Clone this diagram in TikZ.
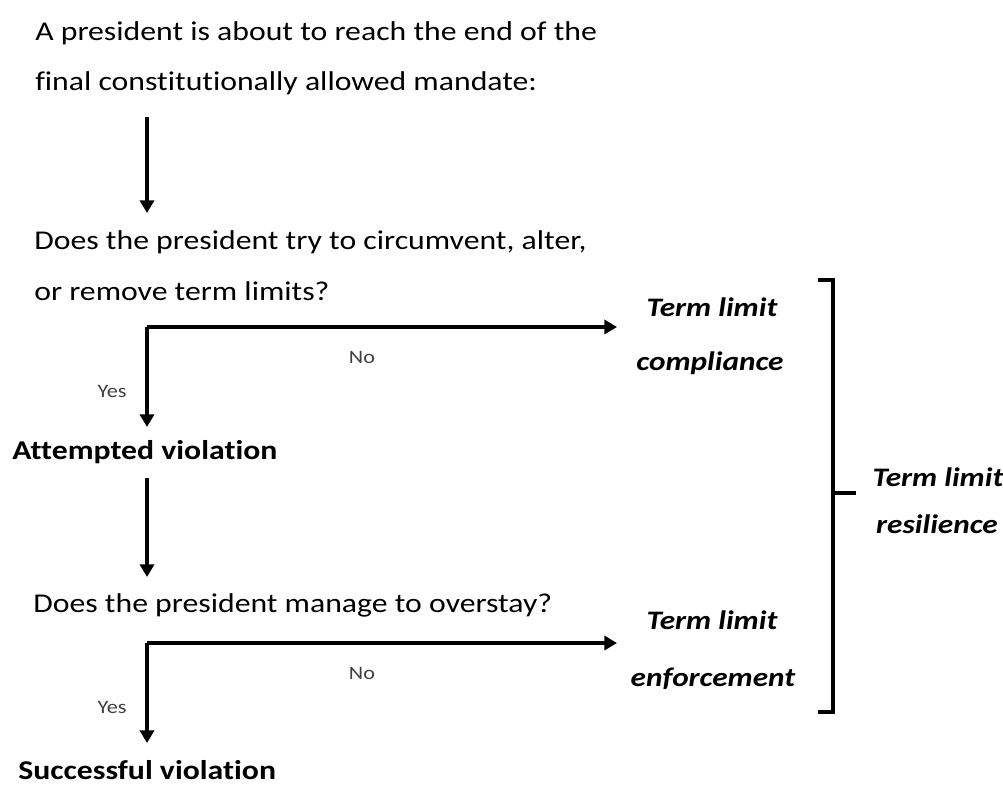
\documentclass[tikz,border=0pt]{standalone}
\usepackage{fontspec}
\setmainfont{Carlito}[FakeStretch=1.17, Ligatures=NoCommon]
\usetikzlibrary{arrows.meta, positioning}

\begin{document}
\begin{tikzpicture}[x=0.025cm, y=-0.025cm,
    body/.style={anchor=base west, inner sep=0pt, font=\fontsize{19.3}{23}\selectfont},
    verdict/.style={body, font=\fontsize{19.3}{23}\selectfont\bfseries},
    outcome/.style={anchor=base, inner sep=0pt, font=\fontsize{19}{23}\selectfont\bfseries\itshape},
    answer/.style={inner sep=0pt, text=black!75, font=\fontsize{13.5}{16}\selectfont},
    flow/.style={line width=2.8pt, -{Triangle[length=9pt, width=10pt]}}]
  \useasboundingbox (0,0) rectangle (1003,784);

  % questions and states
  \node[body] (start1) at (35,40) {A president is about to reach the end of the};
  \node[body] (start2) at (35,90) {final constitutionally allowed mandate:};
  \node[body] (ask1a) at (34,249) {Does the president try to circumvent, alter,};
  \node[body] (ask1b) at (34,300) {or remove term limits?};
  \node[verdict] (attempt) at (12,459) {Attempted violation};
  \node[body] (ask2) at (33,612) {Does the president manage to overstay?};
  \node[verdict] (success) at (18,779) {Successful violation};

  % outcomes
  \node[outcome] (comply1) at (712,316) {Term limit};
  \node[outcome] (comply2) at (710,370) {compliance};
  \node[outcome] (enforce1) at (712,629) {Term limit};
  \node[outcome] (enforce2) at (713,686) {enforcement};
  \node[outcome] (resil1) at (938,486) {Term limit};
  \node[outcome] (resil2) at (937,533) {resilience};

  % straight arrows
  \coordinate (a1) at (147,117);  \coordinate (a1e) at (147,213);
  \coordinate (a2) at (147,478);  \coordinate (a2e) at (147,577);
  \draw[flow] (a1) -- (a1e);
  \draw[flow] (a2) -- (a2e);

  % yes / no branches
  \foreach \n/\y in {1/327, 2/643} {
    \coordinate (k\n) at (147,\y);
    \coordinate (no\n e) at (617,\y);
    \coordinate (yes\n e) at (147,\y+100);
    \draw[flow] (k\n) -- (no\n e);
    \draw[flow] (k\n) -- (yes\n e);
    \node[answer] (no\n) at (362,\y+30) {No};
    \node[answer] (yes\n) at (112,\y+64) {Yes};
  }

  % bracket
  \coordinate (br1) at (818,280);
  \coordinate (br2) at (818,712);
  \coordinate (brm) at (833,493);
  \draw[line width=2.6pt] (br1) -- (br1 -| brm) -- (br2 -| brm) -- (br2);
  \draw[line width=2.6pt] (brm) -- ++(23,0);
\end{tikzpicture}
\end{document}
